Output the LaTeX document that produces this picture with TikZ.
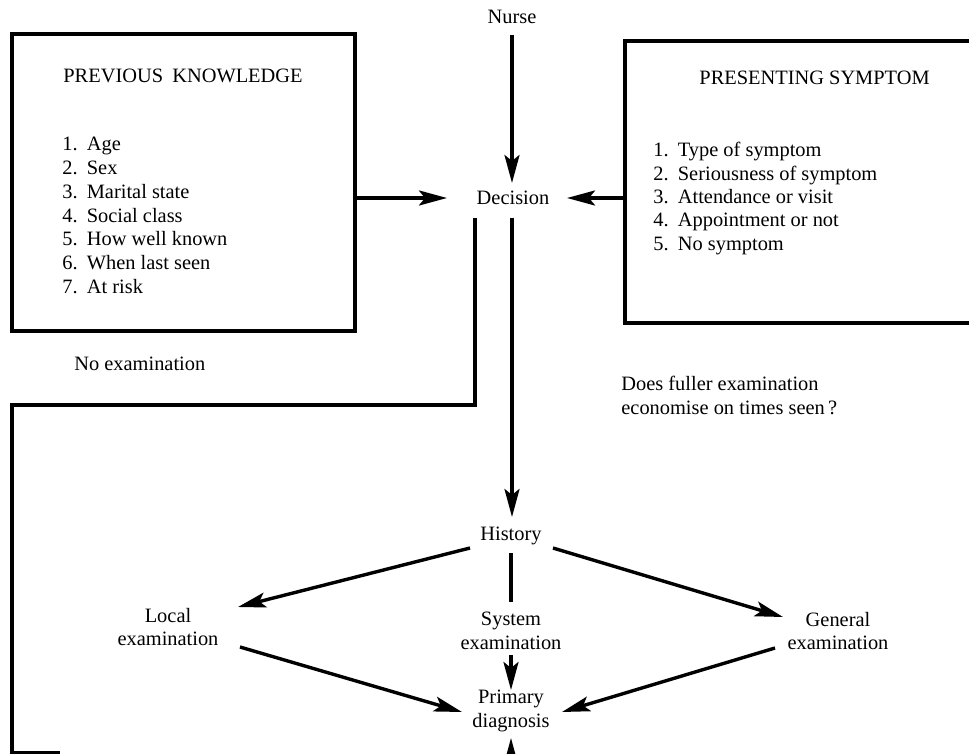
\documentclass[tikz,border=0pt]{standalone}
\usepackage{fontspec}
\setmainfont{Liberation Serif}
\usetikzlibrary{arrows.meta,fit}
\begin{document}
\begin{tikzpicture}[x=0.5pt,y=-0.5pt,
  lbl/.style={font=\fontsize{10.2}{11.8}\selectfont, inner sep=0pt, align=center},
  itm/.style={font=\fontsize{10.2}{11.8}\selectfont, inner sep=0pt, anchor=base west},
  box/.style={draw, line width=1.8pt, rectangle, inner sep=0pt},
  conn/.style={line width=1.7pt},
  arr/.style={conn, -{Stealth[length=14pt,width=7.5pt,inset=3pt]}},
]
\clip (0,0) rectangle (969,754);
\fill[white] (0,0) rectangle (969,754);

% boxes
\coordinate (lb1) at (12,34); \coordinate (lb2) at (355,331);
\node[box, fit=(lb1)(lb2)] (leftbox) {};
\coordinate (rb1) at (625,41); \coordinate (rb2) at (1000,323);
\node[box, fit=(rb1)(rb2)] (rightbox) {};

\node[itm] (pkhead) at (63,83) {PREVIOUS\hspace{0.45em}KNOWLEDGE};
\foreach \t [count=\i] in {Age, Sex, Marital state, Social class, How well known, When last seen, At risk}
  \node[itm] (pk\i) at (62,{151+23.67*(\i-1)}) {\i.\hspace{0.45em}\t};

\node[itm] (pshead) at (699,85) {PRESENTING SYMPTOM};
\foreach \t [count=\i] in {Type of symptom, Seriousness of symptom, Attendance or visit, Appointment or not, No symptom}
  \node[itm] (ps\i) at (653,{157+23.3*(\i-1)}) {\i.\hspace{0.45em}\t};

% central labels
\node[lbl, anchor=base] (nurse) at (512,24) {Nurse};
\node[lbl, anchor=base] (decision) at (513,205) {Decision};
\node[lbl, anchor=base] (history) at (511,540) {History};
\node[lbl] (local) at (168,627) {Local\\examination};
\node[lbl] (system) at (511,631) {System\\examination};
\node[lbl] (general) at (838,631) {General\\examination};
\node[lbl] (primary) at (511,711) {Primary\\diagnosis};
\node[itm] (noexam) at (74,371) {No examination};
\node[itm, align=left, anchor=north west] (fuller) at (621,376) {Does fuller examination\\economise on times seen\,?};

% connector coordinates
\coordinate (nurseS) at (512,35);
\coordinate (decN) at (512,183);
\coordinate (decW) at (447,198);
\coordinate (decE) at (567,198);
\coordinate (decSL) at (475,218);
\coordinate (decSR) at (512,218);
\coordinate (c1) at (475,405);
\coordinate (c2) at (12,405);
\coordinate (c3) at (12,753);
\coordinate (c4) at (60,753);
\coordinate (histN) at (512,517);
\coordinate (histSW) at (470,548);
\coordinate (histSE) at (553,548);
\coordinate (histS) at (511,553);
\coordinate (sysN) at (511,602);
\coordinate (localNE) at (238,607);
\coordinate (generalNW) at (783,617);
\coordinate (localSE) at (240,647);
\coordinate (generalSW) at (775,648);
\coordinate (sysS) at (511,655);
\coordinate (primN) at (511,690);
\coordinate (primW) at (462,712);
\coordinate (primE) at (562,712);
\coordinate (primS) at (511,738);
\coordinate (bottom) at (511,770);

\draw[arr] (nurseS) -- (decN);
\draw[arr] (leftbox.east |- decW) -- (decW);
\draw[arr] (rightbox.west |- decE) -- (decE);
\draw[conn, line join=miter] (decSL) -- (c1) -- (c2) -- (c3) -- (c4);
\draw[arr] (decSR) -- (histN);
\draw[arr] (histSW) -- (localNE);
\draw[arr] (histSE) -- (generalNW);
\draw[conn] (histS) -- (sysN);
\draw[arr] (sysS) -- (primN);
\draw[arr] (localSE) -- (primW);
\draw[arr] (generalSW) -- (primE);
\draw[arr] (bottom) -- (primS);
\end{tikzpicture}
\end{document}
